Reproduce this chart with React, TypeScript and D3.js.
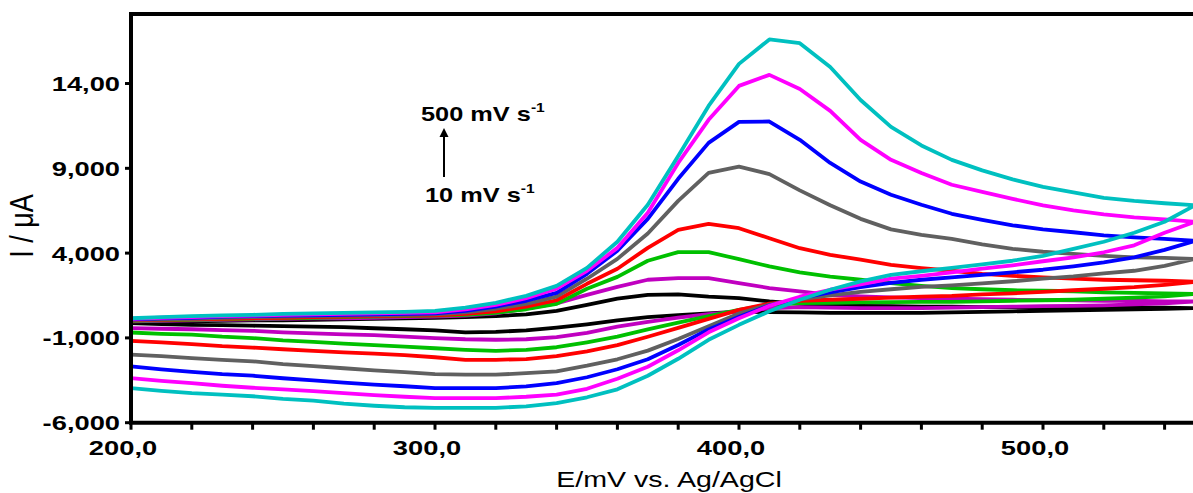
import React from "react";
import * as d3 from "d3";

const E_FWD = [200,210,220,230,240,250,260,270,280,290,300,310,320,330,340,350,360,370,380,390,400,410,420,430,440,450,460,470,480,490,500,510,520,530,540,550];
const E_REV = [550,540,530,520,510,500,490,480,470,460,450,440,430,420,410,400,390,380,370,360,350,340,330,320,310,300,290,280,270,260,250,240,230,220,210,200];

// current (µA), forward scan then reverse scan
const black_fwd = [-80,-50,-20,10,40,40,70,100,130,160,190,220,280,390,600,950,1310,1540,1570,1430,1350,1150,1010,920,890,870,840,840,810,810,810,780,780,780,780,760];
const black_rev = [760,720,690,660,630,600,570,540,510,480,480,480,480,500,520,550,450,340,220,40,-200,-400,-560,-640,-670,-560,-490,-430,-370,-340,-310,-280,-250,-230,-180,-130];
const purple_fwd = [-20,10,40,70,100,130,160,160,190,220,250,310,450,720,1040,1540,2010,2430,2520,2520,2230,1940,1740,1540,1450,1390,1340,1310,1280,1250,1230,1220,1190,1190,1160,1150];
const purple_rev = [1150,1040,980,920,890,870,840,810,780,760,760,760,780,810,750,550,400,200,-50,-340,-700,-960,-1080,-1110,-1080,-1010,-930,-840,-790,-730,-670,-580,-540,-490,-460,-420];
const green_fwd = [10,40,70,100,130,160,190,220,250,280,310,360,480,690,1010,1900,2600,3550,4060,4060,3640,3220,2870,2620,2430,2230,2070,1930,1870,1810,1780,1750,1690,1660,1630,1600];
const green_rev = [1600,1450,1370,1310,1250,1220,1190,1160,1130,1130,1110,1100,1070,1050,950,660,280,-100,-500,-930,-1260,-1550,-1700,-1760,-1700,-1610,-1520,-1430,-1340,-1230,-1140,-1010,-930,-810,-760,-680];
const red_fwd = [40,70,100,130,160,190,220,250,280,310,330,420,570,840,1220,2190,3080,4310,5370,5730,5470,4880,4290,3900,3610,3310,3120,2960,2780,2660,2570,2490,2430,2400,2370,2310];
const red_rev = [2310,2130,1990,1900,1810,1720,1630,1570,1480,1430,1370,1310,1250,1190,1020,650,120,-410,-930,-1430,-1790,-2080,-2250,-2290,-2290,-2140,-2020,-1930,-1850,-1760,-1670,-1570,-1490,-1370,-1260,-1170];
const gray_fwd = [70,100,130,190,220,250,280,310,330,360,390,510,720,1010,1430,2490,3660,5160,7080,8730,9100,8660,7700,6820,6020,5400,5080,4840,4520,4250,4080,3960,3840,3750,3720,3660];
const gray_rev = [3660,3250,2960,2810,2630,2490,2340,2220,2100,2010,1870,1720,1510,1280,970,440,-310,-1060,-1750,-2260,-2640,-2970,-3080,-3170,-3170,-3140,-3020,-2910,-2790,-2670,-2550,-2380,-2290,-2190,-2080,-1990];
const blue_fwd = [100,160,190,250,280,310,330,360,390,420,450,600,840,1190,1660,2780,4140,6020,8380,10500,11740,11760,10680,9320,8220,7440,6850,6320,5960,5640,5400,5230,5050,4930,4840,4720];
const blue_rev = [4720,4190,3750,3460,3220,3020,2870,2720,2570,2430,2250,1990,1690,1340,910,250,-500,-1420,-2260,-2850,-3320,-3670,-3860,-3960,-3960,-3960,-3850,-3760,-3640,-3500,-3380,-3230,-3140,-3000,-2850,-2680];
const magenta_fwd = [130,190,220,280,310,360,390,420,450,480,510,690,950,1340,1900,2960,4310,6380,9320,11860,13860,14510,13680,12390,10680,9500,8730,8030,7610,7200,6820,6520,6290,6110,5990,5850];
const magenta_rev = [5850,5200,4460,4050,3750,3520,3280,3080,2870,2660,2490,2160,1840,1430,890,160,-670,-1730,-2700,-3410,-4000,-4350,-4470,-4550,-4550,-4550,-4470,-4370,-4260,-4140,-4030,-3940,-3820,-3670,-3530,-3370];
const cyan_fwd = [160,220,280,330,360,420,450,480,510,540,600,780,1070,1480,2070,3130,4670,6850,9730,12680,15160,16600,16380,14980,13030,11440,10350,9500,8880,8350,7910,7580,7260,7080,6940,6820];
const cyan_rev = [6820,5850,5200,4670,4250,3840,3550,3340,3130,2930,2720,2330,1840,1250,570,-230,-1110,-2230,-3230,-4030,-4500,-4850,-5040,-5120,-5130,-5130,-5090,-5000,-4880,-4700,-4590,-4440,-4350,-4260,-4120,-3960];

const SERIES = [
  { name: "10 mV/s", color: "#000000", fwd: black_fwd, rev: black_rev },
  { name: "purple", color: "#C000C0", fwd: purple_fwd, rev: purple_rev },
  { name: "green", color: "#00C000", fwd: green_fwd, rev: green_rev },
  { name: "red", color: "#FF0000", fwd: red_fwd, rev: red_rev },
  { name: "gray", color: "#606060", fwd: gray_fwd, rev: gray_rev },
  { name: "blue", color: "#0000FF", fwd: blue_fwd, rev: blue_rev },
  { name: "magenta", color: "#FF00FF", fwd: magenta_fwd, rev: magenta_rev },
  { name: "500 mV/s", color: "#00C0C0", fwd: cyan_fwd, rev: cyan_rev },
];

const Y_TICKS = [-6000, -1000, 4000, 9000, 14000];
const Y_TICK_LABELS = ["-6,000", "-1,000", "4,000", "9,000", "14,00"];
const X_MINOR = [200,220,240,260,280,300,320,340,360,380,400,420,440,460,480,500,520,540];
const X_MAJOR = [200, 300, 400, 500];
const X_TICK_LABELS = ["200,0", "300,0", "400,0", "500,0"];

const FONT = "'Liberation Sans', Arial, Helvetica, sans-serif";
const SX = 1.3;

function SText({ x, y, anchor = "start", size = 21, bold = true, children }: any) {
  return (
    <text
      transform={`translate(${x},${y}) scale(${SX},1)`}
      textAnchor={anchor}
      fontFamily={FONT}
      fontSize={size}
      fontWeight={bold ? "bold" : "normal"}
      fill="#000"
    >
      {children}
    </text>
  );
}

export default function App() {
  const W = 1193, H = 493;
  const L = 131, R = 1195, T = 14, B = 422.7;
  const x = d3.scaleLinear().domain([200, 550]).range([L, R]);
  const y = d3.scaleLinear().domain([-6000, 18100]).range([B, T]);
  const line = d3
    .line<[number, number]>()
    .x((d) => x(d[0]))
    .y((d) => y(d[1]));

  return (
    <svg
      width={W}
      height={H}
      style={{ position: "absolute", left: 0, top: 0, background: "#fff" }}
    >
      <rect x={0} y={0} width={W} height={H} fill="#fff" />
      {SERIES.map((s) => {
        const pts: [number, number][] = [
          ...E_FWD.map((e, i) => [e, s.fwd[i]] as [number, number]),
          ...E_REV.map((e, i) => [e, s.rev[i]] as [number, number]),
        ];
        return (
          <path
            key={s.name}
            d={line(pts) || ""}
            fill="none"
            stroke={s.color}
            strokeWidth={3.8}
            strokeLinejoin="round"
          />
        );
      })}
      {/* frame */}
      <path
        d={`M${L},${T}H${R + 2}M${L},${T - 2}V${B + 2}M${L - 2},${B}H${R + 2}`}
        stroke="#000"
        strokeWidth={4}
        fill="none"
      />
      {/* y ticks */}
      {Y_TICKS.map((v, i) => (
        <g key={v}>
          <line x1={L - 6} x2={L} y1={y(v)} y2={y(v)} stroke="#000" strokeWidth={3} />
          <SText x={L - 11} y={y(v) + 7.5} anchor="end">
            {Y_TICK_LABELS[i]}
          </SText>
        </g>
      ))}
      {/* x ticks */}
      {X_MINOR.map((v) => (
        <line key={v} x1={x(v)} x2={x(v)} y1={B} y2={B + 7} stroke="#000" strokeWidth={3} />
      ))}
      {X_MAJOR.map((v, i) => (
        <SText key={v} x={x(v) - 8} y={455} anchor="middle">
          {X_TICK_LABELS[i]}
        </SText>
      ))}
      {/* axis titles */}
      <SText x={669} y={487} anchor="middle" size={22} bold={false}>
        E/mV vs. Ag/AgCl
      </SText>
      <text
        transform={`translate(33,226) rotate(-90) scale(1,1.2)`}
        textAnchor="middle"
        fontFamily={FONT}
        fontSize={27}
        fill="#000"
      >
        I / μA
      </text>
      {/* annotation */}
      <SText x={421} y={121} size={19.5}>
        500 mV s<tspan dy={-9} fontSize={12}>-1</tspan>
      </SText>
      <SText x={425} y={202} size={19.5}>
        10 mV s<tspan dy={-9} fontSize={12}>-1</tspan>
      </SText>
      <line x1={444} x2={444} y1={177} y2={135} stroke="#000" strokeWidth={2} />
      <path d="M444,128 L439.5,137 L448.5,137 Z" fill="#000" />
    </svg>
  );
}
